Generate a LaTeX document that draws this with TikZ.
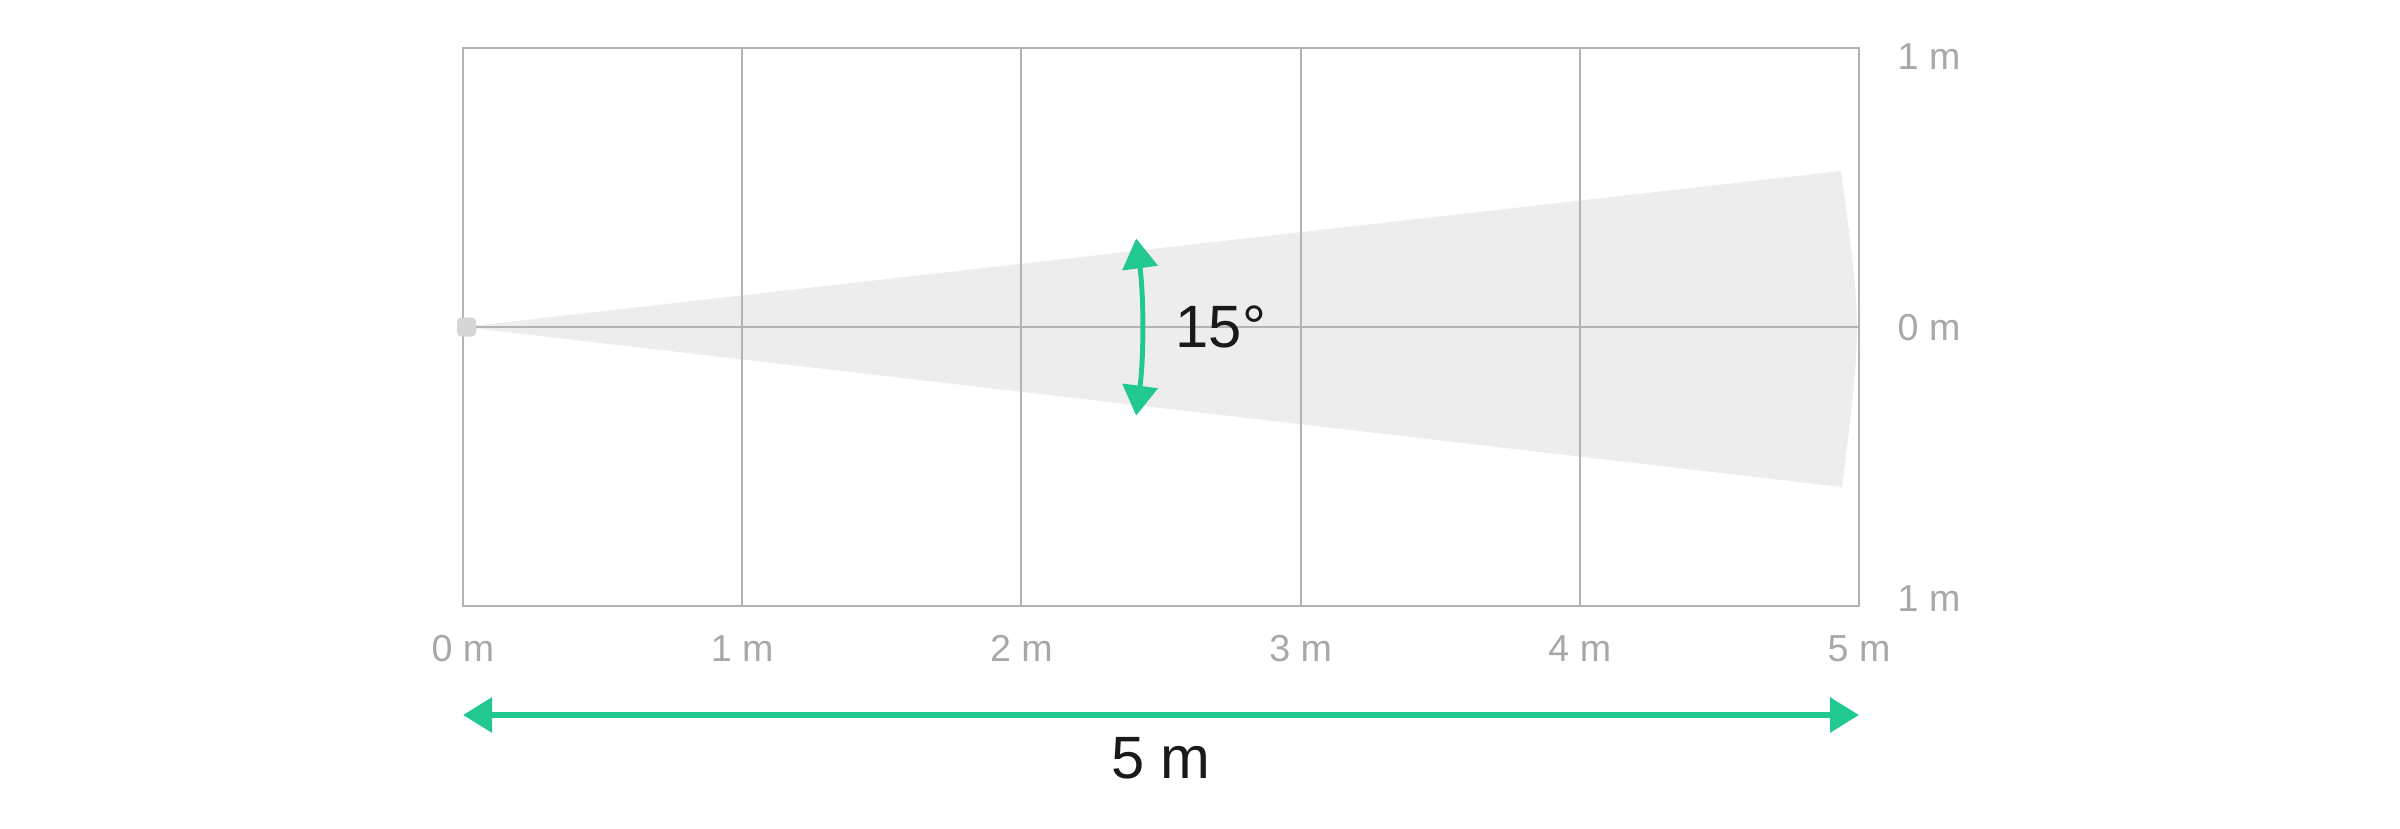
\documentclass[tikz,border=0pt]{standalone}
\usepackage{fontspec}
\setmainfont{Liberation Sans}
\usetikzlibrary{arrows.meta}
\usetikzlibrary{positioning}
\definecolor{gridgray}{HTML}{B3B3B3}
\definecolor{labelgray}{HTML}{A8A8A8}
\definecolor{conegray}{HTML}{EDEDED}
\definecolor{sensorgray}{HTML}{D6D6D6}
\definecolor{beamgreen}{HTML}{21C991}
\tikzstyle{gridline} = [draw=gridgray, line width=0.6pt]
\tikzstyle{scalelabel} = [text=labelgray, inner sep=0pt, font=\fontsize{10.7}{12}\selectfont]
\tikzstyle{biglabel} = [text=black!90, inner sep=0pt, font=\fontsize{17}{20}\selectfont]
\tikzstyle{sensor} = [fill=sensorgray, rounded corners=0.4mm, inner sep=0pt, minimum size=1.9mm]
\tikzstyle{angledim} = [draw=beamgreen, line width=1.4pt, {Triangle[length=3mm, width=3.5mm]}-{Triangle[length=3mm, width=3.5mm]}]
\tikzstyle{rangedim} = [draw=beamgreen, line width=1.7pt, {Triangle[length=2.9mm, width=3.4mm]}-{Triangle[length=2.9mm, width=3.4mm]}]

\begin{document}
\begin{tikzpicture}[x=2.792cm, y=2.792cm]
                        \useasboundingbox (-4.63cm,-5.01cm) rectangle (19.37cm,3.27cm);

                        % detection cone
                        \coordinate (O) at (0,0);
                        \coordinate (CT) at (13.78cm,1.56cm);
                        \coordinate (CB) at (13.79cm,-1.60cm);
                        \coordinate (CC) at (13.99cm,0);
                        \fill[conegray] (O) -- (CT) .. controls (CC) .. (CB) -- cycle;

                        % grid
                        \draw[gridline] (0,-1) rectangle (5,1);
                        \draw[gridline] (0,0) -- (5,0);
                        \draw[gridline] (1,-1) -- (1,1);
                        \draw[gridline] (2,-1) -- (2,1);
                        \draw[gridline] (3,-1) -- (3,1);
                        \draw[gridline] (4,-1) -- (4,1);

                        \node[sensor, xshift=0.035cm](S) at (O) {};

                        % scale labels
                        \coordinate (B0) at (0,-1);
                        \coordinate (B1) at (1,-1);
                        \coordinate (B2) at (2,-1);
                        \coordinate (B3) at (3,-1);
                        \coordinate (B4) at (4,-1);
                        \coordinate (B5) at (5,-1);
                        \node[scalelabel, below=2.85mm of B0](L0) {0 m};
                        \node[scalelabel, below=2.85mm of B1](L1) {1 m};
                        \node[scalelabel, below=2.85mm of B2](L2) {2 m};
                        \node[scalelabel, below=2.85mm of B3](L3) {3 m};
                        \node[scalelabel, below=2.85mm of B4](L4) {4 m};
                        \node[scalelabel, below=2.85mm of B5](L5) {5 m};
                        \coordinate (R1) at (5,1);
                        \coordinate (R0) at (5,0);
                        \coordinate (Rm) at (5,-1);
                        \node[scalelabel, right=3.8mm of R1, yshift=-0.9mm](RL1) {1 m};
                        \node[scalelabel, right=3.8mm of R0, yshift=-0.1mm](RL0) {0 m};
                        \node[scalelabel, right=3.8mm of Rm, yshift=0.8mm](RLm) {1 m};

                        % opening angle
                        \coordinate (A1) at (-7.5:6.79cm);
                        \coordinate (AM) at (0:6.79cm);
                        \draw[angledim] (A1) arc[start angle=-7.5, end angle=7.5, radius=6.79cm];
                        \node[biglabel, right=3.3mm of AM](ANG) {15°};

                        % range
                        \coordinate (DL) at (0,-3.88cm);
                        \coordinate (DR) at (5,-3.88cm);
                        \coordinate (DM) at (2.5,-3.88cm);
                        \draw[rangedim] (DL) -- (DR);
                        \node[biglabel, below=2.2mm of DM](RNG) {5 m};
                    \end{tikzpicture}
\end{document}
